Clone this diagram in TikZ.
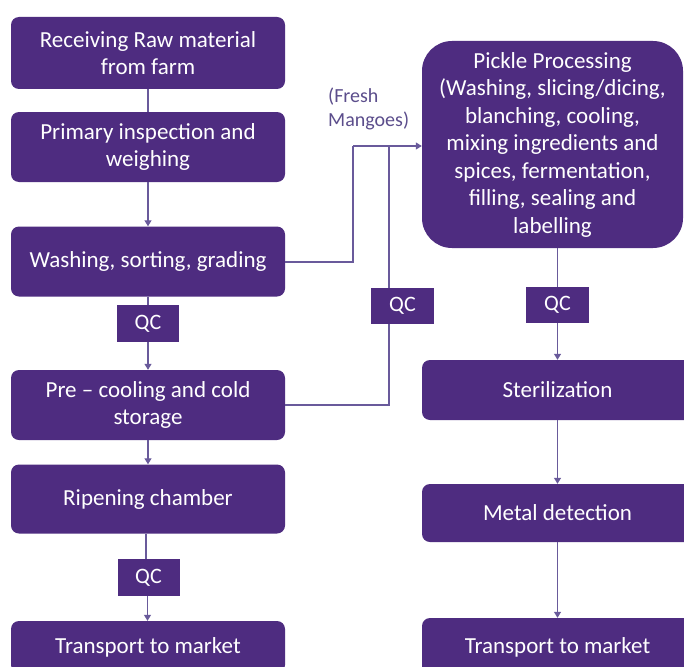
\documentclass[tikz,border=0pt]{standalone}
\usepackage{fontspec}
\setmainfont{Carlito}
\usetikzlibrary{arrows.meta}
\definecolor{boxfill}{RGB}{78,44,128}
\definecolor{linecol}{RGB}{105,90,155}
\definecolor{labelcol}{RGB}{92,78,140}
\begin{document}
\begin{tikzpicture}[x=1pt,y=-1pt,
  box/.style={fill=boxfill,text=white,rounded corners=8pt,align=center,
    font=\fontsize{23}{27.5}\selectfont,inner sep=0pt},
  lbox/.style={box,minimum width=274pt},
  rbox/.style={box,minimum width=271pt},
  qcbox/.style={fill=boxfill,text=white,font=\fontsize{22}{24}\selectfont,
    inner sep=0pt,minimum width=62pt,minimum height=37pt},
  conn/.style={draw=linecol,line width=1.2pt},
  arr/.style={conn,-{Triangle[length=6pt,width=7pt]}}]
\useasboundingbox (0,0) rectangle (684,666);
\fill[white] (0,0) rectangle (684,666);

\coordinate (j1) at (353,262);
\coordinate (j2) at (353,146);
\coordinate (k1) at (389,405);
\coordinate (k2) at (389,146);

% left column
\node[lbox,minimum height=72pt] (b1) at (148,53) {Receiving Raw material\\from farm};
\node[lbox,minimum height=70pt] (b2) at (148,147) {Primary inspection and\\weighing};
\node[lbox,minimum height=70pt] (b3) at (148,261.5) {Washing, sorting, grading};
\node[lbox,minimum height=70pt] (b4) at (148,405) {Pre -- cooling and cold\\storage};
\node[lbox,minimum height=69pt] (b5) at (148,499) {Ripening chamber};
\node[lbox,minimum height=52pt] (b6) at (148,647) {Transport to market};

% right column
\node[box,rounded corners=30pt,minimum width=261pt,minimum height=207pt] (pk) at (552.5,144.5)
  {Pickle Processing\\(Washing, slicing/dicing,\\blanching, cooling,\\mixing ingredients and\\spices, fermentation,\\filling, sealing and\\labelling};
\node[rbox,minimum height=60pt] (st) at (557.5,390) {Sterilization};
\node[rbox,minimum height=58pt] (md) at (557.5,513) {Metal detection};
\node[rbox,minimum height=58pt] (tr) at (557.5,647) {Transport to market};

% label
\node[text=labelcol,align=left,font=\fontsize{20}{24}\selectfont,inner sep=0pt,anchor=north west] (fm) at (328,88) {(Fresh\\Mangoes)};

% lines
\draw[conn] (b1.south) -- (b2.north);
\draw[arr] (b2.south) -- (b3.north);
\draw[conn] (b3.east |- j1) -- (j1) -- (j2);
\draw[arr] (j2) -- (pk.west |- j2);
\draw[conn] (b4.east |- k1) -- (k1) -- (k2);

\node[qcbox] (qc1) at (148,323.5) {QC};
\node[qcbox] (qc3) at (148.5,577.5) {QC};
\node[qcbox,minimum width=63pt,minimum height=36pt] (qcm) at (402.5,306) {QC};
\node[qcbox,minimum width=63pt,minimum height=36pt] (qcr) at (557.5,305) {QC};

\draw[conn] (b3.south) -- (b3.south |- qc1.north);
\draw[arr] (qc1.south -| b4.south) -- (b4.north);
\draw[arr] (b4.south) -- (b5.north);
\draw[conn] ([xshift=-2pt]b5.south) -- ([xshift=-2pt]b5.south |- qc3.north);
\draw[arr] ([xshift=-1pt]qc3.south) -- ([xshift=-1pt]qc3.south |- b6.north);

\draw[conn] (pk.south -| qcr) -- (qcr.north);
\draw[arr] (qcr.south) -- (st.north);
\draw[arr] (st.south) -- (md.north);
\draw[arr] (md.south) -- (tr.north);
\end{tikzpicture}
\end{document}
